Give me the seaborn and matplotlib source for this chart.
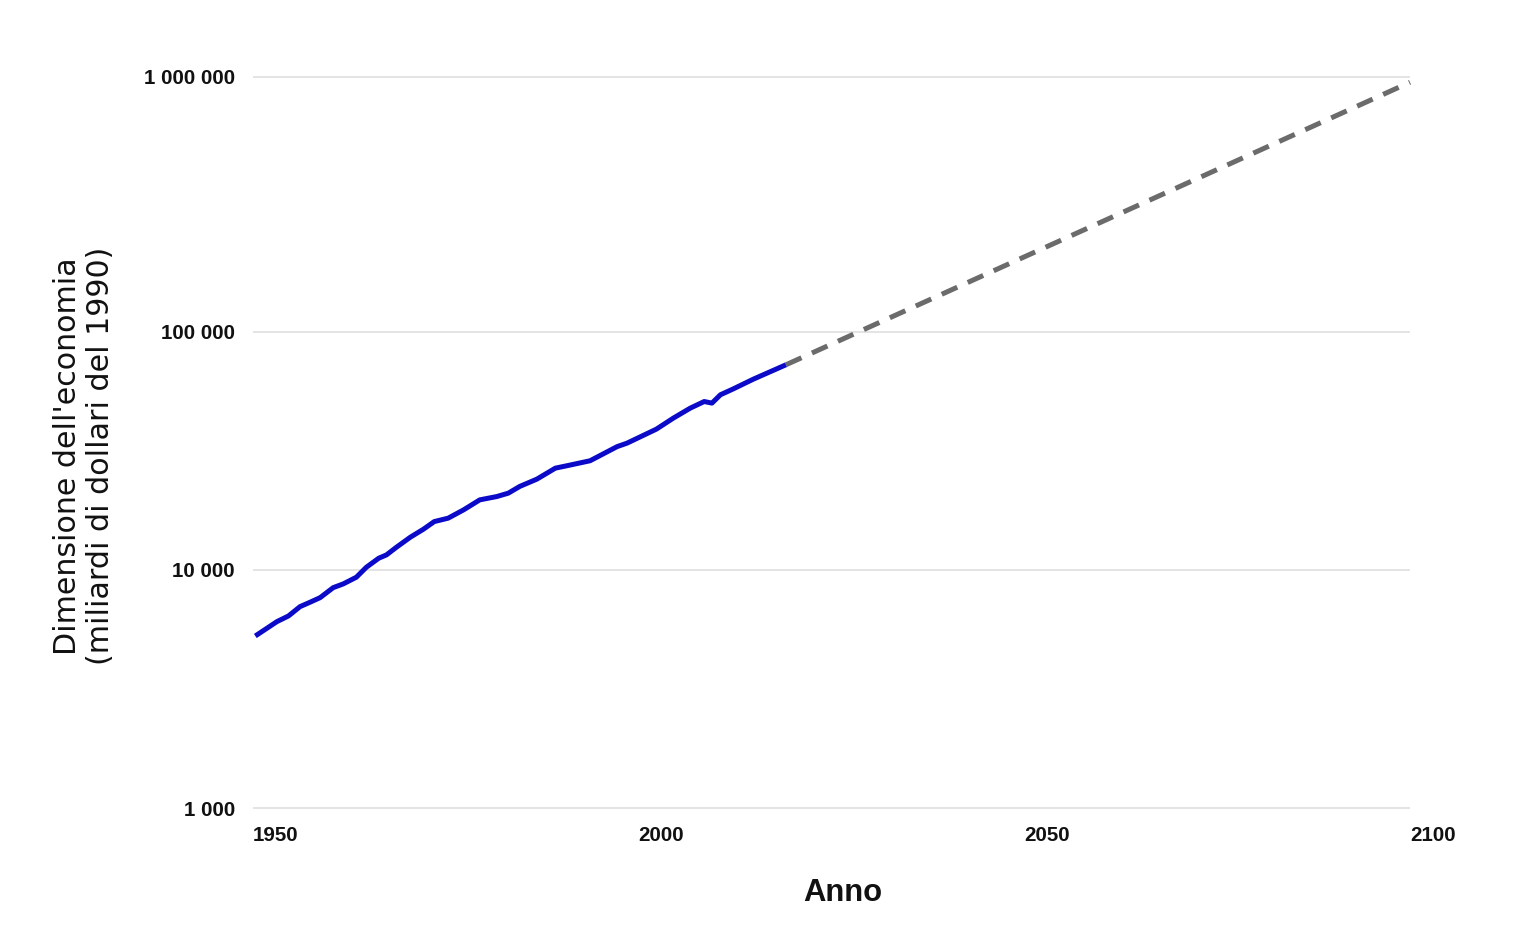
import numpy as np
import pandas as pd
import matplotlib
matplotlib.use("Agg")
import matplotlib.pyplot as plt
from matplotlib.ticker import FixedLocator, NullLocator
import seaborn as sns

# ---- data ----
years_hist = [1950.3, 1953.1, 1954.6, 1956.1, 1957.4, 1958.7, 1960.4, 1961.7, 1963.4,
              1964.7, 1966.3, 1967.3, 1968.6, 1970.4, 1972.1, 1973.5, 1975.3, 1977.3,
              1979.4, 1981.6, 1983.1, 1984.6, 1986.8, 1989.2, 1990.7, 1993.7, 1997.2,
              1998.5, 2002.3, 2004.5, 2006.7, 2008.5, 2009.5, 2010.6, 2012.3, 2014.9,
              2019.1]
gdp_hist = [5280, 6066, 6408, 7013, 7318, 7648, 8426, 8735, 9319,
            10264, 11198, 11562, 12455, 13721, 14826, 15958, 16491, 17871,
            19686, 20324, 21005, 22429, 24050, 26750, 27380, 28730, 32930,
            34070, 39010, 43400, 47800, 50940, 50160, 54370, 57620, 63300,
            72670]
years_proj = [2019.1, 2100]
gdp_proj = [72670, 950000]

x_ticks = [1950, 2000, 2050, 2100]
y_ticks = [1000, 10000, 100000, 1000000]
y_tick_labels = ["1 000", "10 000", "100 000", "1 000 000"]

x_label = "Anno"
y_label = "Dimensione dell'economia\n(miliardi di dollari del 1990)"

df_hist = pd.DataFrame({"anno": years_hist, "pil": gdp_hist})
df_proj = pd.DataFrame({"anno": years_proj, "pil": gdp_proj})

sns.set_theme(style="white")
plt.rcParams["font.family"] = ["Liberation Sans", "DejaVu Sans"]

W, H = 1518, 944
PX = 0.72  # px -> pt at dpi 100
fig = plt.figure(figsize=(W / 100, H / 100), dpi=100)
fig.patch.set_facecolor("white")
ax = fig.add_axes([253 / W, (H - 820) / H, (1410 - 253) / W, (820 - 65) / H])

sns.lineplot(data=df_proj, x="anno", y="pil", ax=ax, color="#6b6b6b",
             linewidth=5 * PX, zorder=2)
sns.lineplot(data=df_hist, x="anno", y="pil", ax=ax, color="#0a0ac8",
             linewidth=5 * PX, zorder=3)
ax.lines[0].set_dashes((3.4, 2.3))
for ln in ax.lines:
    ln.set_clip_on(False)
    ln.set_solid_capstyle("butt")


# log axis whose top decade is drawn slightly taller, as in the reference
def fwd(v):
    v = np.asarray(v, dtype=float)
    L = np.log10(np.clip(v, 1e-300, None))
    return np.where(L <= 5, L, 5 + (L - 5) * 255.0 / 238.0)


def inv(u):
    u = np.asarray(u, dtype=float)
    return np.where(u <= 5, 10.0 ** u, 10.0 ** (5 + (u - 5) * 238.0 / 255.0))


ax.set_yscale("function", functions=(fwd, inv))
ax.set_ylim(float(inv(2.95)), float(inv(6.12)))
ax.set_xlim(1950, 2100)

ax.yaxis.set_major_locator(FixedLocator(y_ticks))
ax.yaxis.set_minor_locator(NullLocator())
ax.set_yticklabels(y_tick_labels)
ax.xaxis.set_major_locator(FixedLocator(x_ticks))
ax.xaxis.set_minor_locator(NullLocator())
ax.set_xticklabels([str(t) for t in x_ticks])

for lab in ax.get_xticklabels():
    lab.set_horizontalalignment("left")
    lab.set_fontweight("bold")
    lab.set_fontsize(20.5 * PX)
    lab.set_color("#111111")
for lab in ax.get_yticklabels():
    lab.set_fontweight("bold")
    lab.set_fontsize(20.5 * PX)
    lab.set_color("#111111")

ax.tick_params(axis="x", length=0, pad=4.5)
ax.tick_params(axis="y", length=0, pad=13)

ax.grid(axis="y", color="#dcdcdc", linewidth=1.1)
ax.grid(axis="x", visible=False)
ax.set_axisbelow(True)
for s in ax.spines.values():
    s.set_visible(False)
ax.set_xlabel("")
ax.set_ylabel("")

fig.text(843 / W, 1 - 893 / H, x_label, ha="center", va="center",
         fontsize=31 * PX, fontweight="bold", color="#111111")
fig.text(84 / W, 1 - 456 / H, y_label, ha="center", va="center", rotation=90,
         multialignment="center", fontsize=30 * PX, color="#111111",
         family=["DejaVu Sans"], linespacing=1.15)

fig.savefig("out.png", dpi=100, facecolor="white")
